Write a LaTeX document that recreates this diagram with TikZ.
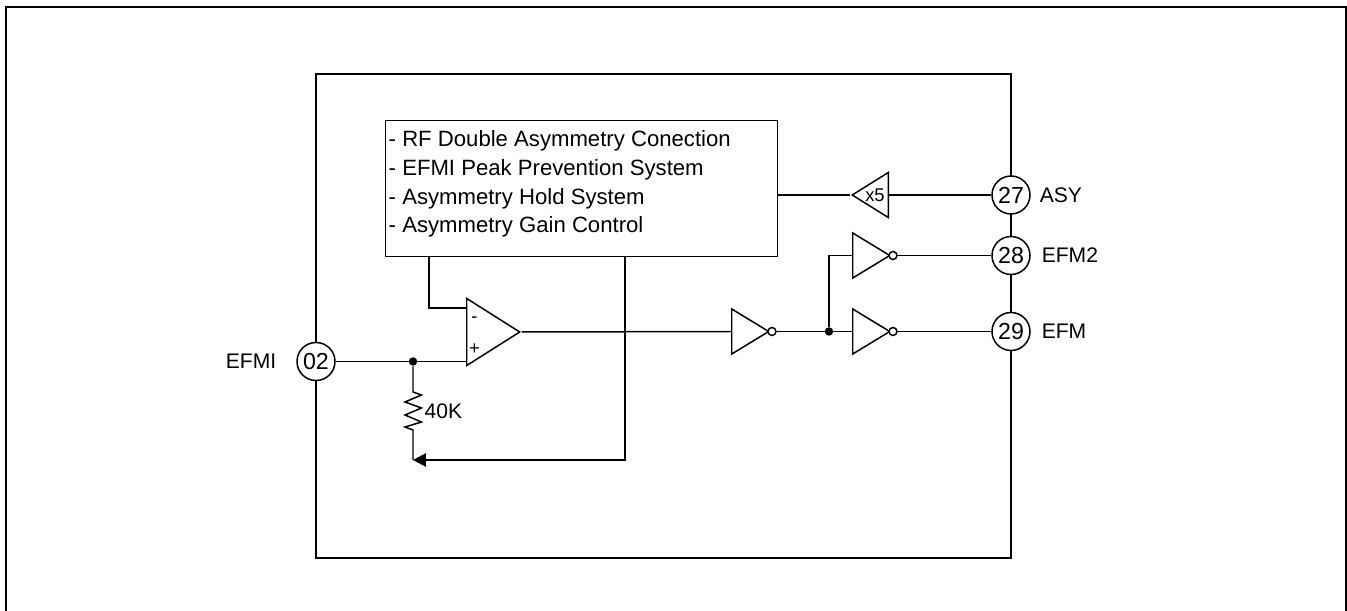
\documentclass[tikz,border=0pt]{standalone}
\usepackage{fontspec}
\setmainfont{Liberation Sans}
\usetikzlibrary{positioning,arrows.meta,shapes.geometric,calc}
\newcommand{\bigtxt}{\fontsize{12}{14}\selectfont}
\newcommand{\boxtxt}{\fontsize{12.6}{15}\selectfont}
\newcommand{\pintxt}{\fontsize{13.2}{15}\selectfont}
\newcommand{\smalltxt}{\fontsize{10.5}{12}\selectfont}

\begin{document}
\begin{tikzpicture}[x=0.02cm,y=-0.02cm,line width=0.85pt,font=\bigtxt,
    pin/.style={draw, circle, fill=white, minimum size=0.76cm, inner sep=0pt, font=\pintxt},
    gate/.style={draw, isosceles triangle, isosceles triangle stretches, inner sep=0pt, anchor=lower side},
    inv/.style={gate, minimum width=0.9cm, minimum height=0.74cm},
    bubble/.style={draw, circle, fill=white, minimum size=0.16cm, inner sep=0pt},
    dot/.style={fill, circle, minimum size=0.17cm, inner sep=0pt},
    txt/.style={inner sep=0pt, anchor=west},
    boxline/.style={txt, font=\boxtxt}]
    \useasboundingbox (0,0) rectangle (1347,611);
    % Outer frame, open at the bottom
    \draw[line width=1.2pt] (6,611) -- (6,7) -- (1346,7) -- (1346,611);
    % Chip outline
    \draw (316,74) rectangle (1011,558);
    % Pins
    \node[pin] (pin02) at (316,361.5) {02};
    \node[pin] (pin27) at (1011,195) {27};
    \node[pin] (pin28) at (1011,255.5) {28};
    \node[pin] (pin29) at (1011,331.5) {29};
    \node[inner sep=0pt, anchor=east] (efmi) at (277,361.5) {EFMI};
    \node[txt] (asy) at (1039,195) {ASY};
    \node[txt] (efmtwo) at (1041,255.5) {EFM2};
    \node[txt] (efm) at (1041,331.5) {EFM};
    % Control block
    \node[draw, anchor=north west, minimum width=7.84cm, minimum height=2.72cm] (ctrl) at (385,120) {};
    \node[boxline] (lineone) at (388,141) {- RF Double Asymmetry Conection};
    \node[boxline] (linetwo) at (388,170) {- EFMI Peak Prevention System};
    \node[boxline] (linethree) at (388,199) {- Asymmetry Hold System};
    \node[boxline] (linefour) at (388,227) {- Asymmetry Gain Control};
    % Amplifier
    \node[gate, minimum width=1.34cm, minimum height=1.06cm] (amp) at (466,332) {};
    \coordinate (ampminus) at (466,308);
    \coordinate (ampplus) at (466,361.5);
    \node[inner sep=0pt, font=\smalltxt] (minus) at (474.5,320) {-};
    \node[inner sep=0pt, font=\smalltxt] (plus) at (474.5,349.5) {+};
    \coordinate (fbtop) at (429,256);
    \draw (fbtop) |- (ampminus);
    \node[dot] (join) at (413,361.5) {};
    \draw (pin02) -- (ampplus);
    % Resistor and return line
    \coordinate (restop) at (413,392);
    \coordinate (resbot) at (413,430);
    \coordinate (wiper) at (413,460);
    \coordinate (rettop) at (625,256);
    \draw (join) -- (restop) -- ++(8.5,3) -- ++(-16.5,7) -- ++(16.5,6) -- ++(-16.5,7) -- ++(16.5,7) -- ++(-16.5,5) -- (resbot) -- (wiper);
    \node[txt] (rval) at (424,411) {40K};
    \draw[-{Triangle[length=0.26cm,width=0.27cm]}] (rettop) |- (wiper);
    % Inverters
    \node[inv] (invone) at (731,331.5) {};
    \node[bubble] (bubone) at (772,331.5) {};
    \node[inv] (invtwo) at (852,255.5) {};
    \node[bubble] (bubtwo) at (893,255.5) {};
    \node[inv] (invthree) at (852,331.5) {};
    \node[bubble] (bubthree) at (893,331.5) {};
    \node[dot] (split) at (829,331.5) {};
    \draw (amp.apex) -- (invone.lower side);
    \draw (bubone) -- (invthree.lower side);
    \draw (split) |- (invtwo.lower side);
    \draw (bubtwo) -- (pin28);
    \draw (bubthree) -- (pin29);
    % x5 buffer
    \node[gate, shape border rotate=180, minimum width=0.9cm, minimum height=0.72cm] (buf) at (889,195) {};
    \node[inner sep=0pt, font=\smalltxt] (bufval) at (875,195.5) {x5};
    \draw (pin27) -- (buf.lower side);
    \draw (buf.apex) -- (buf.apex -| ctrl.east);
\end{tikzpicture}
\end{document}
